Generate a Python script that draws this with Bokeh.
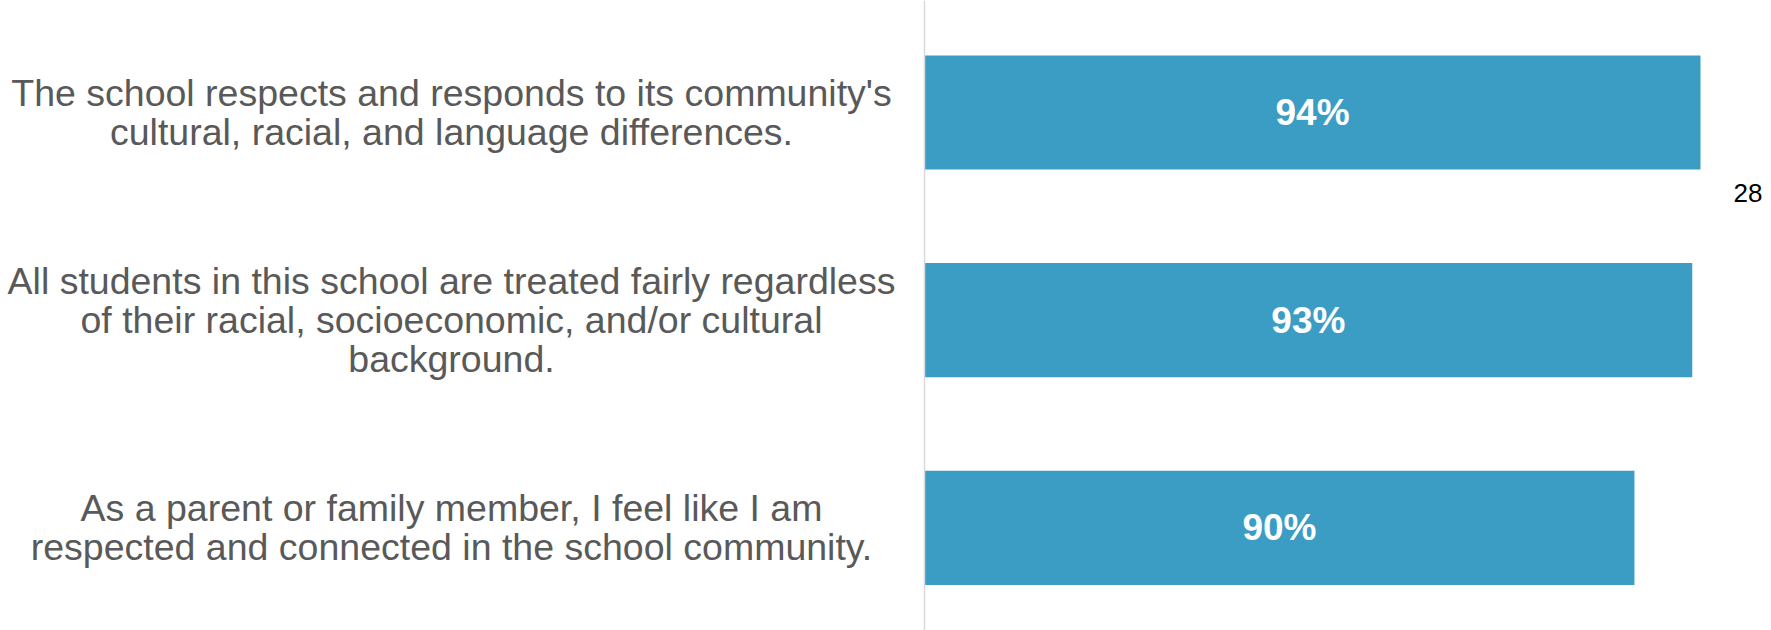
from bokeh.plotting import figure
from bokeh.models import Range1d, Span, Label, ColumnDataSource
from bokeh.core.properties import value
from bokeh.embed import file_html
from bokeh.resources import INLINE

# ---- data ----
statements = [
    "The school respects and responds to its community's\ncultural, racial, and language differences.",
    "All students in this school are treated fairly regardless\nof their racial, socioeconomic, and/or cultural\nbackground.",
    "As a parent or family member, I feel like I am\nrespected and connected in the school community.",
]
bar_values = [94, 93, 86]             # bar lengths as drawn
value_labels = ["94%", "93%", "90%"]  # printed labels
page_number = "28"

# ---- layout ----
W, H = 1771, 630
px_per_unit = 776 / 94.0
axis_px = 924                      # pixel of zero from figure left
x_start = -axis_px / px_per_unit
x_end = x_start + W / px_per_unit
band_px = 207.7
top_pad = 112 / band_px
y_top = -top_pad
y_bottom = y_top + H / band_px

p = figure(width=W, height=H, output_backend="svg", toolbar_location=None,
           x_range=Range1d(x_start, x_end), y_range=Range1d(y_bottom, y_top),
           min_border=0, min_border_left=0, min_border_right=0,
           min_border_top=0, min_border_bottom=0)
p.axis.visible = False
p.grid.visible = False
p.outline_line_color = None
p.background_fill_color = "white"
p.border_fill_color = "white"

ys = list(range(len(statements)))
src = ColumnDataSource(dict(y=ys, v=bar_values, mid=[v / 2 for v in bar_values],
                            lab=value_labels, txt=statements,
                            lx=[x_start + 451 / px_per_unit] * len(ys)))

p.hbar(y="y", left=0, right="v", height=0.55, source=src,
       fill_color="#3C9DC4", line_color=None)

p.add_layout(Span(location=0, dimension="height", line_color="#D9D9D9", line_width=1.5))

p.text(x="mid", y="y", text="lab", source=src, text_align="center", text_baseline="middle",
       text_color="white", text_font=value("Liberation Sans"), text_font_style="bold",
       text_font_size="37px")

p.text(x="lx", y="y", text="txt", source=src, text_align="center", text_baseline="middle",
       text_color="#595959", text_font=value("Liberation Sans"),
       text_font_size="37.5px", text_line_height=0.93)

p.add_layout(Label(x=1733, y=H - 192, x_units="screen", y_units="screen", text=page_number,
                   text_font="Liberation Sans", text_font_size="26px",
                   text_color="black", text_baseline="alphabetic"))

open("out.html", "w").write(file_html(p, INLINE))
